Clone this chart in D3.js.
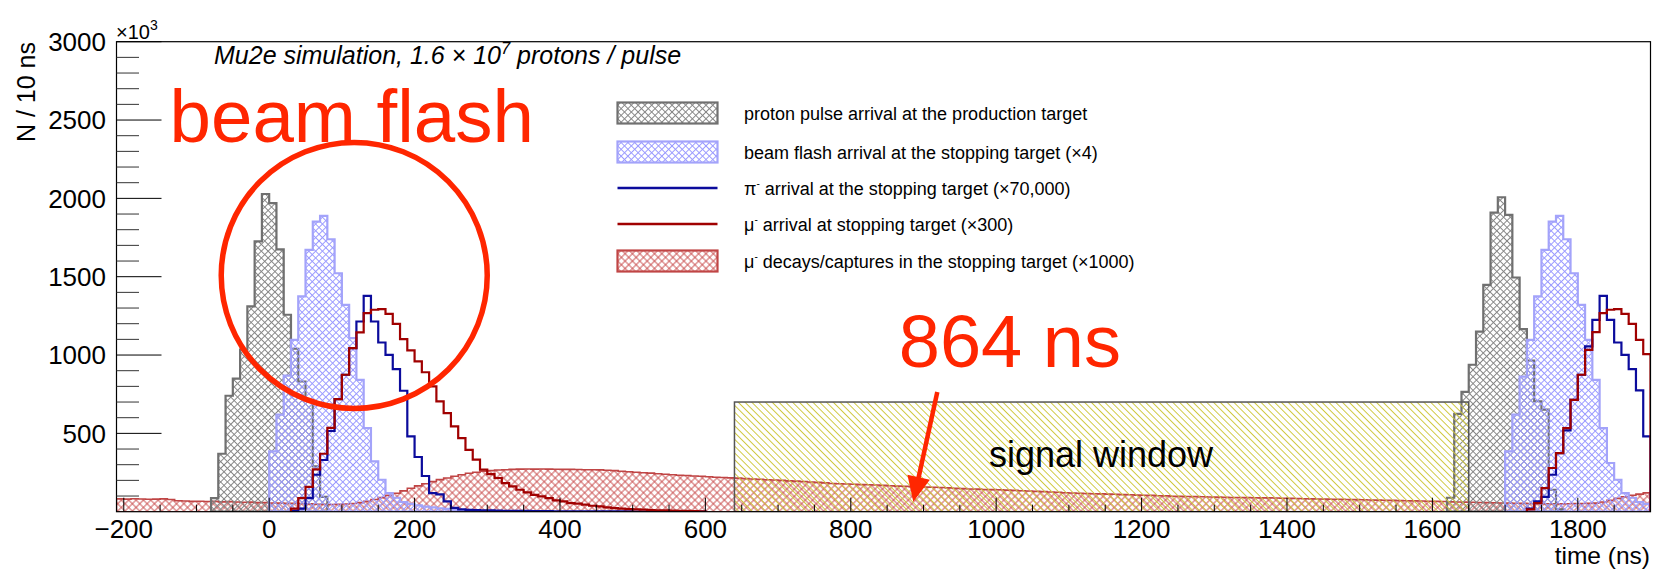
<!DOCTYPE html>
<html>
<head>
<meta charset="utf-8">
<script src="https://cdn.jsdelivr.net/npm/d3@7"></script>
<style>
  body { margin: 0; background: #fff; }
  svg { display: block; }
  text { font-family: "Liberation Sans", Arial, Helvetica, sans-serif; }
</style>
</head>
<body>
<svg id="chart" width="1653" height="569"></svg>
<script>
// ---------------------------------------------------------------------------
// Histogram contents, 10 ns bins. Each series: first bin's lower edge + counts
// (counts in units of 10^3 per 10 ns, after the scale factors in the legend).
// ---------------------------------------------------------------------------
const BIN_WIDTH = 10;

// proton pulse arrival at the production target
const protonStart1 = -80;
const protonCounts1 = [87, 370, 740, 850, 1035, 1310, 1725, 2028, 1969, 1675, 1257, 1040, 831, 714, 289, 95];
const protonStart2 = 1620;
const protonCounts2 = [89, 625, 765, 938, 1150, 1448, 1909, 2007, 1894, 1495, 1165, 965, 705, 652, 140, 15];

// beam flash arrival at the stopping target (x4)
const flashStart1 = 0;
const flashCounts1 = [385, 620, 868, 1097, 1374, 1671, 1852, 1888, 1739, 1522, 1320, 1108, 842, 534, 321,
                      204, 119, 89, 62, 50, 40, 33, 27, 22, 18, 12, 8, 5, 3];
const flashStart2 = 1700;
const flashCounts2 = [385, 619, 862, 1097, 1374, 1671, 1852, 1888, 1739, 1522, 1320, 1097, 842, 534, 311,
                      204, 119, 89, 62, 50];

// pi- arrival at the stopping target (x70,000)
const pionStart1 = 30;
const pionCounts1 = [5, 20, 87, 236, 330, 515, 719, 874, 1044, 1214, 1378, 1214, 1080, 1001, 910, 772, 481,
                     349, 228, 119, 110, 66, 24, 15, 12, 10, 9, 8, 7, 6, 6, 5, 5, 4, 4, 4, 3, 3, 3, 3,
                     2, 2, 2, 2, 2, 2, 2, 1, 1, 1, 1, 1, 1, 1, 1, 1, 1];
const pionStart2 = 1730;
const pionCounts2 = [20, 66, 95, 236, 374, 519, 714, 874, 1055, 1225, 1378, 1225, 1080, 1001, 910, 774, 481];

// mu- arrival at the stopping target (x300)
const muonStart1 = 30;
const muonCounts1 = [20, 87, 158, 270, 370, 535, 719, 874, 1044, 1144, 1267, 1289, 1293, 1263, 1199, 1101,
                     1030, 960, 890, 800, 704, 629, 544, 470, 395, 332, 268, 240, 215, 183, 162, 140, 123,
                     108, 98, 87, 72, 66, 55, 51, 45, 38, 34, 28, 23, 20, 17, 15, 13, 11, 9, 8, 7, 6, 5, 4, 3];
const muonStart2 = 1730;
const muonCounts2 = [15, 55, 151, 279, 374, 534, 714, 874, 1033, 1146, 1267, 1289, 1293, 1263, 1199, 1097, 1006];

// mu- decays/captures in the stopping target (x1000)
const decayStart = -210;
const decayCounts = [
  82, 80, 83, 81, 79, 80, 82, 78,
  70, 68, 66, 67, 65, 66, 63, 64,
  62, 60, 61, 58, 59,
  56, 55, 53, 54, 52,
  50, 48, 47, 46, 47, 49, 52,
  58, 66, 78, 90, 104, 118, 133, 150,
  165, 178, 192, 205, 215, 226, 236, 245, 252, 258,
  262, 266, 268, 270, 272, 273, 272, 273, 272, 271,
  270, 270, 269, 268, 268, 267,
  265, 262, 258, 255, 252, 249, 246, 242, 239, 236, 233, 231, 228, 226, 223, 220, 218, 216,
  214, 211, 209, 207, 204, 202, 200, 197, 195, 193, 190, 187, 184, 180, 178, 177, 175, 173,
  172, 170, 168, 166, 163, 162, 160, 158, 157, 156, 154, 152, 149, 147, 145, 144, 142, 141,
  140, 138, 136, 134, 132, 130, 128, 126, 124, 121, 119, 118, 116, 115, 114, 112, 111, 109, 108, 106,
  105, 104, 102, 101, 99, 98, 97, 96, 95, 94, 93, 92, 91, 91, 90, 89, 88, 88, 87, 86,
  85, 84, 83, 82, 81, 80, 79, 79, 78, 77, 76, 75, 74, 73, 72, 71, 70, 69, 68, 67,
  66, 65, 63, 62, 61, 60, 59, 58, 57, 56, 55, 54, 53, 52, 52, 51, 51, 50, 51, 52,
  52, 53, 55, 62, 72, 85, 95, 105, 112, 120
];

// signal window: [start ns, end ns, height]
const signalWindow = [640, 1650, 700];

// axes
const xDomain = [-210, 1900];
const yDomain = [0, 3000];
const xMajorTicks = [-200, 0, 200, 400, 600, 800, 1000, 1200, 1400, 1600, 1800];
const yMajorTicks = [500, 1000, 1500, 2000, 2500, 3000];

const legendLabels = [
  "proton pulse arrival at the production target",
  "beam flash arrival at the stopping target (\u00d74)",
  "arrival at the stopping target (\u00d770,000)",
  "arrival at stopping target (\u00d7300)",
  "decays/captures in the stopping target (\u00d71000)"
];

// ---------------------------------------------------------------------------
const svg = d3.select("#chart");
const W = 1653, H = 569;
const plot = { left: 116.5, right: 1650.5, top: 41.7, bottom: 511.7 };

svg.append("rect").attr("width", W).attr("height", H).attr("fill", "#fff");

const x = d3.scaleLinear().domain(xDomain).range([plot.left, plot.right]);
const y = d3.scaleLinear().domain(yDomain).range([plot.bottom, plot.top]);

const defs = svg.append("defs");

// crossed hatch (diamonds) and single diagonal hatch
function crossHatch(id, color, size, width) {
  const p = defs.append("pattern").attr("id", id)
    .attr("patternUnits", "userSpaceOnUse")
    .attr("width", size).attr("height", size)
    .attr("patternTransform", "rotate(45)");
  p.append("path")
    .attr("d", `M0,${size / 2} H${size} M${size / 2},0 V${size}`)
    .attr("stroke", color).attr("stroke-width", width).attr("fill", "none");
}
function diagHatch(id, color, size) {
  const p = defs.append("pattern").attr("id", id)
    .attr("patternUnits", "userSpaceOnUse")
    .attr("width", size).attr("height", size)
    .attr("patternTransform", "rotate(45)");
  p.append("path")
    .attr("d", `M0,${size / 2} H${size}`)
    .attr("stroke", color).attr("stroke-width", 1).attr("fill", "none");
}
crossHatch("hatchProton", "#868686", 4.8, 1);
crossHatch("hatchFlash", "#9a9aff", 4.8, 1);
crossHatch("hatchDecay", "#c84a4a", 5.2, 0.9);
diagHatch("hatchWindow", "#cfc83e", 4.8);

defs.append("clipPath").attr("id", "plotClip")
  .append("rect")
  .attr("x", plot.left).attr("y", plot.top)
  .attr("width", plot.right - plot.left).attr("height", plot.bottom - plot.top);

const g = svg.append("g").attr("clip-path", "url(#plotClip)");

function stepPoints(start, counts) {
  const pts = [[start, 0]];
  counts.forEach((c, i) => {
    const a = start + i * BIN_WIDTH;
    pts.push([a, c], [a + BIN_WIDTH, c]);
  });
  pts.push([start + counts.length * BIN_WIDTH, 0]);
  return pts;
}
const stepLine = d3.line().x(d => x(d[0])).y(d => y(d[1]));

function filledHist(start, counts, pattern, stroke) {
  g.append("path")
    .attr("d", stepLine(stepPoints(start, counts)) + "Z")
    .attr("fill", `url(#${pattern})`)
    .attr("stroke", stroke).attr("stroke-width", 2.2)
    .attr("stroke-linejoin", "miter");
}
function lineHist(start, counts, stroke) {
  g.append("path")
    .attr("d", stepLine(stepPoints(start, counts)))
    .attr("fill", "none")
    .attr("stroke", stroke).attr("stroke-width", 2.2);
}

// decays underneath everything
g.append("path")
  .attr("d", stepLine(stepPoints(decayStart, decayCounts)) + "Z")
  .attr("fill", "url(#hatchDecay)")
  .attr("stroke", "#c04545").attr("stroke-width", 1.6);

filledHist(protonStart1, protonCounts1, "hatchProton", "#707070");
filledHist(protonStart2, protonCounts2, "hatchProton", "#707070");
filledHist(flashStart1, flashCounts1, "hatchFlash", "#a3a3fa");
filledHist(flashStart2, flashCounts2, "hatchFlash", "#a3a3fa");

// signal window
g.append("rect")
  .attr("x", x(signalWindow[0]))
  .attr("y", y(signalWindow[2]))
  .attr("width", x(signalWindow[1]) - x(signalWindow[0]))
  .attr("height", y(0) - y(signalWindow[2]))
  .attr("fill", "url(#hatchWindow)")
  .attr("stroke", "#555").attr("stroke-width", 1.5);

lineHist(pionStart1, pionCounts1, "#0b0b9c");
lineHist(pionStart2, pionCounts2, "#0b0b9c");
lineHist(muonStart1, muonCounts1, "#a00000");
lineHist(muonStart2, muonCounts2, "#a00000");

// ---------------------------------------------------------------------------
// frame, ticks, labels
// ---------------------------------------------------------------------------
svg.append("rect")
  .attr("x", plot.left).attr("y", plot.top)
  .attr("width", plot.right - plot.left).attr("height", plot.bottom - plot.top)
  .attr("fill", "none").attr("stroke", "#000").attr("stroke-width", 1.2);

const axisG = svg.append("g");
// y ticks: major every 500, minor every 100
d3.range(100, 3001, 100).forEach(v => {
  const major = v % 500 === 0;
  axisG.append("line")
    .attr("x1", plot.left).attr("x2", plot.left + (major ? 45 : 22.5))
    .attr("y1", y(v)).attr("y2", y(v))
    .attr("stroke", major ? "#000" : "#333").attr("stroke-width", 1);
});
// x ticks: major every 200, minor every 50
d3.range(-200, 1901, 50).forEach(v => {
  const major = v % 200 === 0;
  axisG.append("line")
    .attr("x1", x(v)).attr("x2", x(v))
    .attr("y1", plot.bottom).attr("y2", plot.bottom - (major ? 14 : 7))
    .attr("stroke", "#000").attr("stroke-width", 1);
});

svg.append("g").selectAll("text").data(yMajorTicks).join("text")
  .attr("x", 106).attr("y", d => y(d) + 9.3)
  .attr("text-anchor", "end").attr("font-size", 26).attr("fill", "#000")
  .text(d => d);

svg.append("g").selectAll("text").data(xMajorTicks).join("text")
  .attr("x", d => x(d)).attr("y", 538)
  .attr("text-anchor", "middle").attr("font-size", 26).attr("fill", "#000")
  .text(d => d < 0 ? "\u2212" + Math.abs(d) : d);

// exponent of the y axis
const expo = svg.append("text").attr("x", 116).attr("y", 38.5).attr("font-size", 20);
expo.append("tspan").text("\u00d710");
expo.append("tspan").attr("font-size", 14).attr("dy", -9).text("3");

// axis titles
svg.append("text")
  .attr("transform", "translate(35,42) rotate(-90)")
  .attr("text-anchor", "end").attr("font-size", 25)
  .text("N / 10 ns");
svg.append("text")
  .attr("x", 1650).attr("y", 563.5)
  .attr("text-anchor", "end").attr("font-size", 24.5)
  .text("time (ns)");

// header
const title = svg.append("text").attr("x", 214).attr("y", 64)
  .attr("font-size", 25).attr("font-style", "italic");
title.append("tspan").text("Mu2e simulation, 1.6 \u00d7 10");
title.append("tspan").attr("font-size", 16.5).attr("dy", -10).text("7");
title.append("tspan").attr("dy", 10).text(" protons / pulse");

// ---------------------------------------------------------------------------
// legend
// ---------------------------------------------------------------------------
const legendRows = [113, 152, 188, 224, 261];
const legX0 = 617.5, legX1 = 717.5, legBoxH = 21, legTextX = 744;
const legendStyles = [
  { kind: "box", fill: "hatchProton", stroke: "#707070" },
  { kind: "box", fill: "hatchFlash", stroke: "#a3a3fa" },
  { kind: "line", stroke: "#0b0b9c" },
  { kind: "line", stroke: "#a00000" },
  { kind: "box", fill: "hatchDecay", stroke: "#c04545" }
];
const prefixes = [null, null, "\u03c0", "\u03bc", "\u03bc"];
const leg = svg.append("g");
legendStyles.forEach((s, i) => {
  const cy = legendRows[i];
  if (s.kind === "box") {
    leg.append("rect")
      .attr("x", legX0).attr("y", cy - legBoxH / 2)
      .attr("width", legX1 - legX0).attr("height", legBoxH)
      .attr("fill", `url(#${s.fill})`)
      .attr("stroke", s.stroke).attr("stroke-width", 2.2);
  } else {
    leg.append("line")
      .attr("x1", legX0).attr("x2", legX1).attr("y1", cy).attr("y2", cy)
      .attr("stroke", s.stroke).attr("stroke-width", 2.4);
  }
  const t = leg.append("text").attr("x", legTextX).attr("y", cy + 6.5).attr("font-size", 18);
  if (prefixes[i]) {
    t.append("tspan").text(prefixes[i]);
    t.append("tspan").attr("font-size", 10).attr("dy", -8).text("-");
    t.append("tspan").attr("dy", 8).text(" " + legendLabels[i]);
  } else {
    t.text(legendLabels[i]);
  }
});

// ---------------------------------------------------------------------------
// annotations (positions in data coordinates)
// ---------------------------------------------------------------------------
const RED = "#ff2600";
const flashCircle = { t: 117, v: 1508, r: 133 };
const flashLabel = { t: -137, v: 2362, text: "beam flash" };
const windowLabel = { t: 990, v: 285, text: "signal window" };
const startLabel = { t: 866, v: 926, text: "864 ns" };
const startArrow = { from: [919, 764], to: [886, 64] };

const ann = svg.append("g");
ann.append("circle")
  .attr("cx", x(flashCircle.t)).attr("cy", y(flashCircle.v)).attr("r", flashCircle.r)
  .attr("fill", "none").attr("stroke", RED).attr("stroke-width", 5.5);
ann.append("text")
  .attr("x", x(flashLabel.t)).attr("y", y(flashLabel.v))
  .attr("font-size", 74.5).attr("fill", RED).text(flashLabel.text);
ann.append("text")
  .attr("x", x(windowLabel.t)).attr("y", y(windowLabel.v))
  .attr("font-size", 36).attr("fill", "#000").text(windowLabel.text);
ann.append("text")
  .attr("x", x(startLabel.t)).attr("y", y(startLabel.v))
  .attr("font-size", 74).attr("fill", RED).text(startLabel.text);

// arrow: shaft + triangular head
{
  const x0 = x(startArrow.from[0]), y0 = y(startArrow.from[1]);
  const x1 = x(startArrow.to[0]), y1 = y(startArrow.to[1]);
  const dx = x1 - x0, dy = y1 - y0, len = Math.hypot(dx, dy);
  const ux = dx / len, uy = dy / len;
  const headL = 25, headW = 11.5;
  const bx = x1 - ux * headL, by = y1 - uy * headL;
  ann.append("line")
    .attr("x1", x0).attr("y1", y0).attr("x2", bx + ux * 2).attr("y2", by + uy * 2)
    .attr("stroke", RED).attr("stroke-width", 4.5);
  ann.append("path")
    .attr("d", `M${x1},${y1} L${bx - uy * headW},${by + ux * headW} L${bx + uy * headW},${by - ux * headW} Z`)
    .attr("fill", RED);
}
</script>
</body>
</html>
